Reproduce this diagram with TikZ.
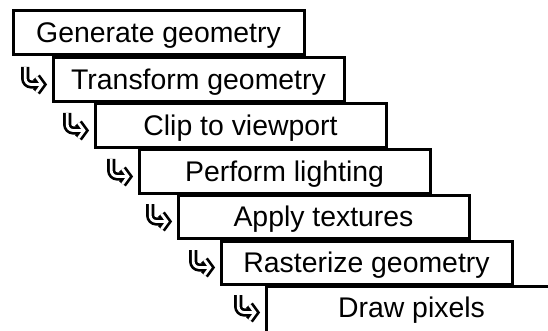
\documentclass[tikz,border=0pt]{standalone}
\usepackage{fontspec}
\setmainfont{Liberation Sans}
\begin{document}
\begin{tikzpicture}[x=1pt, y=-1pt,
  stage/.style={draw, line width=3pt, rectangle, anchor=north west,
    outer sep=0pt, inner sep=0pt,
    minimum width=291pt, minimum height=43.5pt,
    text height=25.5pt, text depth=6pt,
    font=\fontsize{28.4}{34}\selectfont},
  turnarrow/.pic={
    \draw[line width=2.7pt, double=white, double distance=2.8pt,
          line join=miter, line cap=butt]
      (4.2,0) [rounded corners=6pt] -- (4.2,17.5) -- (19,17.5) [sharp corners]
      (15.5,10) -- (21,17.5) -- (15.5,25);
  }]
\useasboundingbox (0,0) rectangle (548,331);
\clip (0,0) rectangle (548,331);

% pipeline stages, each one stepped down and to the right
\node[stage] (s1) at (13,11)  {Generate geometry};
\node[stage] (s2) at (53,58)  {Transform geometry};
\node[stage] (s3) at (95,104) {Clip to viewport};
\node[stage] (s4) at (139,150) {Perform lighting};
\node[stage] (s5) at (178,195) {Apply textures};
\node[stage] (s6) at (221,241) {Rasterize geometry};
\node[stage, minimum height=52pt, text depth=14.5pt] (s7) at (266,286) {Draw pixels};

% hand-off markers in front of each following stage
\foreach \s in {s2,s3,s4,s5,s6,s7}
  \path (\s.north west) ++(-32,9) pic {turnarrow};
\end{tikzpicture}
\end{document}
